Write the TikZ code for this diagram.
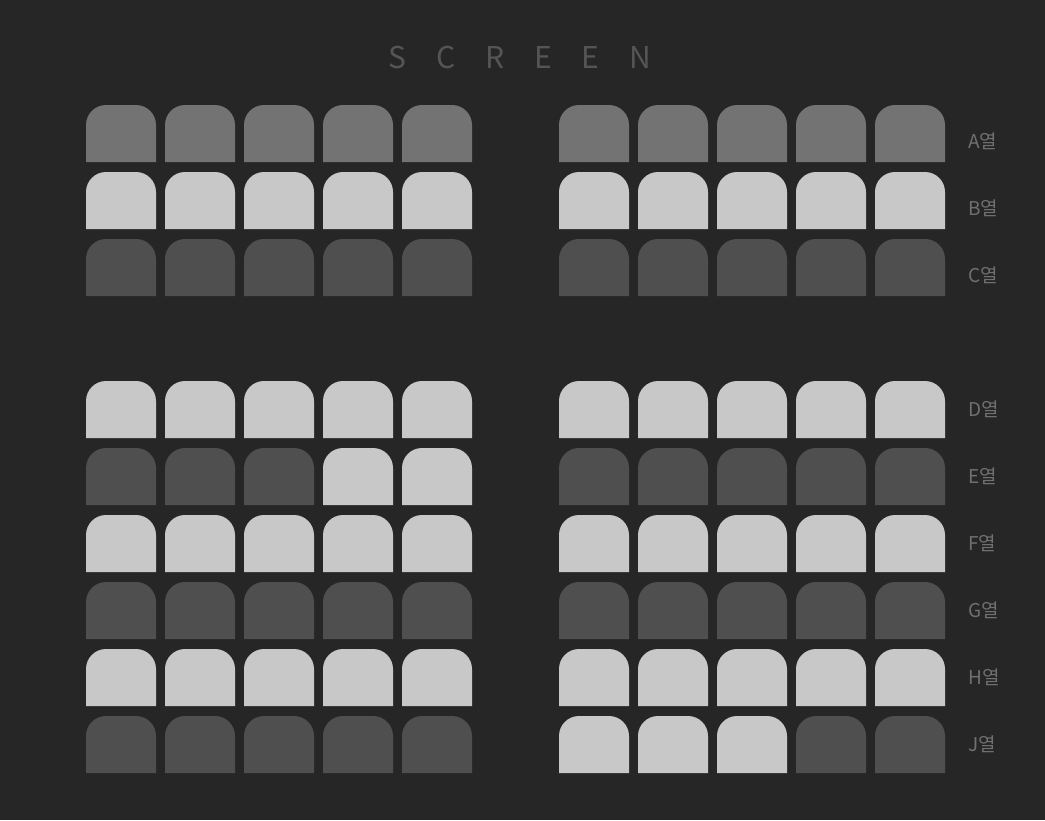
\documentclass[tikz,border=0pt]{standalone}
\usepackage{fontspec}
\setmainfont{Noto Sans CJK KR}
\definecolor{hallbg}{HTML}{262626}
\definecolor{seatmid}{HTML}{737373}
\definecolor{seatfree}{HTML}{C8C8C8}
\definecolor{seattaken}{HTML}{4F4F4F}
\definecolor{labelgray}{HTML}{707070}
\definecolor{screengray}{HTML}{555555}
\newcommand{\drawseat}[3]{%
  \fill[#3] (#1,#2+57) [rounded corners=20pt] -- (#1,#2) -- (#1+70,#2)
    [sharp corners] -- (#1+70,#2+57) -- cycle;}

\begin{document}
\begin{tikzpicture}[x=1pt,y=-1pt,
  rowlabel/.style={anchor=west,inner sep=0pt,text=labelgray,font=\fontsize{19}{20}\selectfont},
  screenlabel/.style={anchor=west,inner sep=0pt,text=screengray,
    font=\fontsize{30}{32}\selectfont\addfontfeature{LetterSpace=100}}]
\fill[hallbg] (0,0) rectangle (1045,820);
\node[screenlabel] (screen) at (388,58) {SCREEN};
% rows: name / top / label offset / left block / right block
\foreach \row/\top/\off/\leftblock/\rightblock in {
  A/105/36/{seatmid,seatmid,seatmid,seatmid,seatmid}/{seatmid,seatmid,seatmid,seatmid,seatmid},
  B/172/36/{seatfree,seatfree,seatfree,seatfree,seatfree}/{seatfree,seatfree,seatfree,seatfree,seatfree},
  C/239/36/{seattaken,seattaken,seattaken,seattaken,seattaken}/{seattaken,seattaken,seattaken,seattaken,seattaken},
  D/381/28/{seatfree,seatfree,seatfree,seatfree,seatfree}/{seatfree,seatfree,seatfree,seatfree,seatfree},
  E/448/28/{seattaken,seattaken,seattaken,seatfree,seatfree}/{seattaken,seattaken,seattaken,seattaken,seattaken},
  F/515/28/{seatfree,seatfree,seatfree,seatfree,seatfree}/{seatfree,seatfree,seatfree,seatfree,seatfree},
  G/582/28/{seattaken,seattaken,seattaken,seattaken,seattaken}/{seattaken,seattaken,seattaken,seattaken,seattaken},
  H/649/28/{seatfree,seatfree,seatfree,seatfree,seatfree}/{seatfree,seatfree,seatfree,seatfree,seatfree},
  J/716/28/{seattaken,seattaken,seattaken,seattaken,seattaken}/{seatfree,seatfree,seatfree,seattaken,seattaken}}{
  \foreach \c [count=\i from 0] in \leftblock {\drawseat{86+79*\i}{\top}{\c}}
  \foreach \c [count=\i from 0] in \rightblock {\drawseat{559+79*\i}{\top}{\c}}
  \node[rowlabel] (row\row) at (968,\top+\off) {\row 열};
}
\end{tikzpicture}
\end{document}
